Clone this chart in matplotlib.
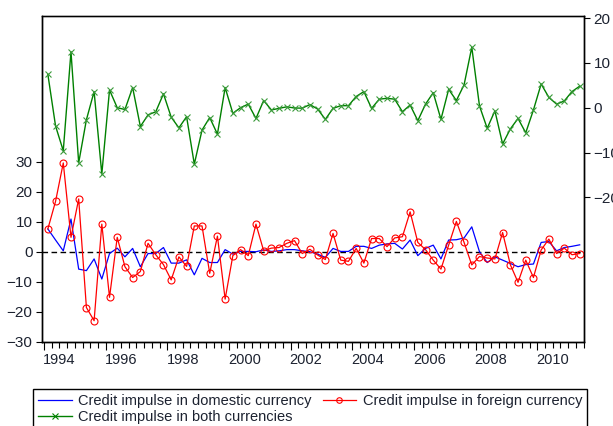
import matplotlib
matplotlib.use("Agg")
import matplotlib.pyplot as plt
import numpy as np
import pandas as pd
from matplotlib.lines import Line2D

plt.rcParams['font.family'] = ['Liberation Sans', 'DejaVu Sans']

# ---------------- data (quarterly, 1994Q1 - 2011Q2) ----------------
first_quarter = '1994Q1'

domestic = [7.6, 3.9, 0.3, 10.9, -5.8, -6.3, -2.4, -9.1, -0.6, 1.2,
            -1.7, 1.1, -5.0, -0.6, -0.6, 1.4, -3.8, -3.8, -2.7, -7.7,
            -2.2, -3.6, -3.6, 0.7, -0.8, 0.1, 0.1, 0.0, 0.6, 0.1,
            0.3, 0.7, 0.7, 0.3, 0.0, -0.8, -1.9, 1.1, 0.1, 0.1,
            1.8, 1.8, 1.1, 2.2, 2.6, 2.8, 0.9, 3.9, -1.3, 1.1,
            2.2, -2.4, 3.9, 4.0, 4.6, 8.3, 0.0, -3.6, -1.7, -2.8,
            -3.9, -5.0, -4.3, -4.1, 3.1, 3.4, 0.3, 1.4, 1.8, 2.3]

foreign = [7.6, 16.8, 29.6, 4.8, 17.6, -18.6, -23.0, 9.2, -15.2, 4.8,
           -5.0, -8.6, -6.6, 2.8, -1.0, -4.3, -9.4, -1.7, -4.9, 8.6,
           8.6, -7.2, 5.2, -15.8, -1.3, 0.7, -1.3, 9.2, 0.3, 1.2,
           1.4, 2.8, 3.7, -0.6, 0.8, -1.1, -2.6, 6.1, -2.8, -3.2,
           1.1, -3.8, 4.4, 4.4, 1.7, 4.6, 5.0, 13.3, 3.1, 0.7,
           -2.8, -5.8, 2.2, 10.1, 3.1, -4.4, -1.6, -2.1, -2.4, 6.4,
           -4.3, -10.2, -2.8, -8.6, 0.6, 4.2, -0.6, 1.2, -1.0, -0.6]

both = [7.45, -4.1, -9.6, 12.5, -12.3, -2.7, 3.6, -14.8, 3.95, 0.0,
        -0.4, 4.5, -4.2, -1.6, -0.9, 3.1, -2.1, -4.5, -2.0, -12.6,
        -5.0, -2.2, -5.9, 4.5, -1.25, 0.0, 0.8, -2.4, 1.6, -0.5,
        -0.15, 0.2, -0.07, -0.1, 0.7, -0.3, -2.6, -0.15, 0.45, 0.45,
        2.5, 3.6, -0.15, 1.9, 2.1, 1.9, -0.9, 0.6, -2.9, 0.8,
        3.35, -2.6, 4.1, 1.6, 5.1, 13.5, 0.4, -4.6, -0.7, -8.1,
        -4.75, -2.4, -5.6, -0.5, 5.3, 2.3, 0.8, 1.5, 3.6, 4.8]

year_labels = ['1994', '1996', '1998', '2000', '2002', '2004', '2006', '2008', '2010']
left_ticks = [-30, -20, -10, 0, 10, 20, 30]
right_ticks = [-20, -10, 0, 10, 20]
series_labels = ['Credit impulse in domestic currency',
                 'Credit impulse in foreign currency',
                 'Credit impulse in both currencies']

# ---------------- time axis (fractional years, quarter midpoints) ----------------
periods = pd.period_range(first_quarter, periods=len(domestic), freq='Q')
x = np.array([p.year + (p.quarter - 1) * 0.25 + 0.125 for p in periods])

W, H = 613, 426
fig = plt.figure(figsize=(W / 100, H / 100), dpi=100)
L, R, T, B = 42, 584, 16, 342
ax = fig.add_axes([L / W, (H - B) / H, (R - L) / W, (B - T) / H])

tick_color = '#1c2230'
blue, red, green = '#0000FF', '#FF0000', '#008000'

ax.axhline(0, color='black', lw=1.0, ls=(0, (4, 2.5)), zorder=1)
ax.plot(x, domestic, color=blue, lw=0.9, zorder=2)
ax.plot(x, foreign, color=red, lw=0.9, marker='o', ms=5, mfc='none', mec=red, mew=0.8, zorder=3)

ax.set_xlim(1993.935, 2011.515)
ax.set_ylim(-30.1, 78.6)

ax2 = ax.twinx()
ax2.plot(x, both, color=green, lw=1.0, marker='x', ms=5, mew=0.8, mec='#3a9a3a')
ax2.set_ylim(-52.3, 20.47)

# y axes
ax.set_yticks(left_ticks)
ax.tick_params(axis='y', which='both', direction='out', length=4.3, width=0.8,
               pad=2.5, labelsize=11, colors='black', labelcolor=tick_color)
ax2.set_yticks(right_ticks)
ax2.tick_params(axis='y', which='both', direction='out', length=4.3, width=0.8,
                pad=2.5, labelsize=11, colors='black', labelcolor=tick_color)

# x axis: long ticks at even years, short ticks every quarter, labels centred on the year
year_pos = [int(y) for y in year_labels]
ax.set_xticks(year_pos)
ax.set_xticks(np.arange(1994, 2011.6, 0.25), minor=True)
ax.tick_params(axis='x', which='major', length=6, width=0.8, labelbottom=False, colors='black')
ax.tick_params(axis='x', which='minor', length=4.5, width=0.8, colors='black')

sec = ax.secondary_xaxis('bottom')
sec.set_xticks([y + 0.5 for y in year_pos], labels=year_labels)
sec.tick_params(length=0, pad=8, labelsize=10.5, labelcolor=tick_color)
sec.spines['bottom'].set_visible(False)

for a in (ax, ax2):
    for s in a.spines.values():
        s.set_linewidth(1.0)
        s.set_color('black')
ax.spines['top'].set_color('#555555')

# legend
handles = [Line2D([], [], color=blue, lw=0.9),
           Line2D([], [], color=green, lw=1.0, marker='x', ms=4, mew=0.8),
           Line2D([], [], color=red, lw=0.9, marker='o', ms=4, mfc='none', mew=0.8)]
labels = [series_labels[0], series_labels[2], series_labels[1]]
leg = fig.legend(handles, labels, loc='upper left', bbox_to_anchor=(33 / W, 1 - 389 / H),
                 ncol=2, fontsize=10.5, frameon=True, fancybox=False, edgecolor='black',
                 framealpha=1, borderaxespad=0, borderpad=0.35, handlelength=2.3,
                 handletextpad=0.45, columnspacing=0.75, labelspacing=0.15)
leg.get_frame().set_linewidth(1.0)
for t in leg.get_texts():
    t.set_color(tick_color)

fig.savefig('out.png', dpi=100)
